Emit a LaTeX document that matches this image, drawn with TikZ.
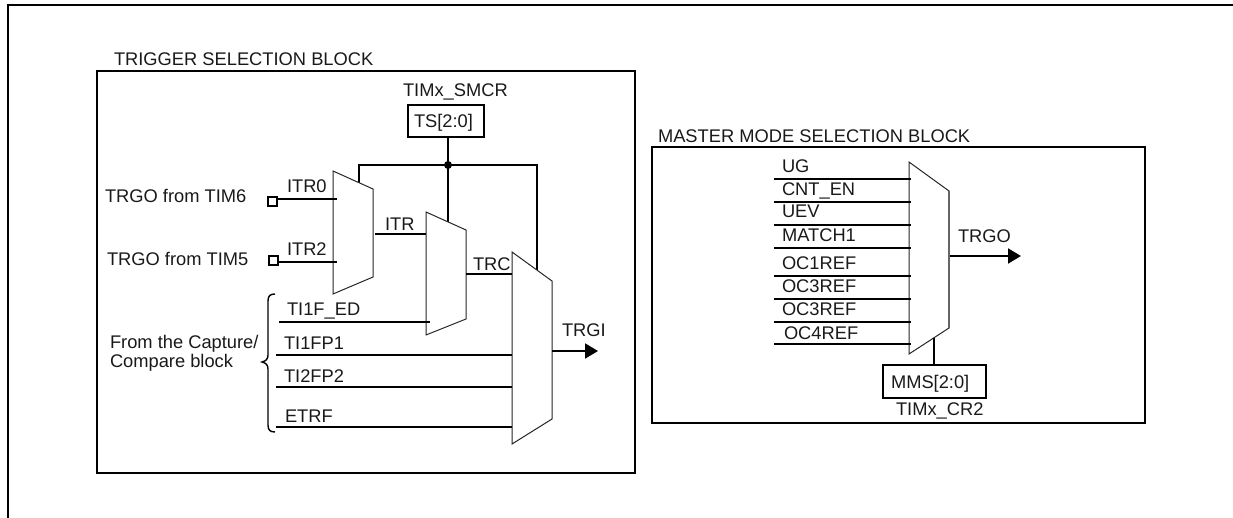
\documentclass[tikz,border=0pt]{standalone}
\usepackage{fontspec}
\setmainfont{Liberation Sans}
\usetikzlibrary{arrows.meta}
\tikzset{
  frame/.style={draw=black,line width=2pt,fill=none},
  wire/.style={draw=black,line width=2pt},
  muxbody/.style={draw=black!85,line width=1pt,fill=white,line join=miter},
  muxedge/.style={draw=black!60,line width=1.6pt},
  bracepath/.style={draw=black,line width=1.4pt},
  lab/.style={inner sep=0pt,outer sep=0pt,anchor=base west,text=black!90,font=\fontsize{18.3}{21}\selectfont},
  regbox/.style={draw=black,line width=2pt,inner sep=0pt,outer sep=0pt,anchor=north west},
  port/.style={draw=black,line width=2pt,fill=white,inner sep=0pt,minimum size=9pt},
  arrowout/.style={wire,-{Triangle[length=13pt,width=15pt]}},
  blockbox/.style={frame,inner sep=0pt,outer sep=0pt,anchor=north west}
}
\begin{document}
\begin{tikzpicture}[x=1pt,y=-1pt]
\useasboundingbox (0,0) rectangle (1233,518);
% outer frame
\coordinate (oBL) at (8,517.5); \coordinate (oTL) at (8,5); \coordinate (oTR) at (1233,5);
\draw[frame,line cap=butt] (oBL) -- (oTL) -- (oTR);
% blocks
\node[blockbox,minimum width=538pt,minimum height=402pt] (trigblock) at (97,71) {};
\node[blockbox,minimum width=493pt,minimum height=276pt] (masterblock) at (652,147) {};
\node[lab] (trigtitle) at (114,66) {TRIGGER SELECTION BLOCK};
\node[lab] (mastertitle) at (658,143) {MASTER MODE SELECTION BLOCK};
% ---- trigger block ----
\node[lab] (smcr) at (403,97) {TIMx\_SMCR};
\node[regbox,minimum width=76pt,minimum height=32pt] (ts) at (408,105.5) {};
\node[lab] (tstext) at (414,128) {TS[2:0]};
\coordinate (junc) at (448,165);
\coordinate (busL) at (359,165);
\coordinate (busR) at (537,165);
\coordinate (busRb) at (537,271);
\coordinate (mux1top) at (359,183);
\coordinate (mux2top) at (448,223);
\draw[wire] (junc |- ts.south) -- (junc);
\draw[wire] (mux1top) -- (busL) -- (busR) -- (busRb);
\draw[wire] (junc) -- (mux2top);
\node[circle,fill=black,inner sep=0pt,minimum size=8pt] (dot) at (junc) {};
% mux bodies
\draw[muxbody] (333,171) -- (373,189) -- (373,277) -- (333,294) -- cycle;
\draw[muxbody] (426,212) -- (466,230) -- (466,319) -- (426,335) -- cycle;
\draw[muxbody] (512,252) -- (552,281) -- (552,419) -- (512,444) -- cycle;
% inputs
\node[port] (p6) at (272.5,202) {};
\node[port] (p5) at (273,260.5) {};
\node[lab] (l6) at (105,203) {TRGO from TIM6};
\node[lab] (l5) at (107,266) {TRGO from TIM5};
\node[lab] (litr0) at (287,193) {ITR0};
\node[lab] (litr2) at (287,256) {ITR2};
\coordinate (m1a) at (337,199);
\coordinate (m1b) at (337,262);
\draw[wire] (p6.east |- m1a) -- (m1a);
\draw[wire] (p5.east |- m1b) -- (m1b);
\coordinate (m1o) at (375,234); \coordinate (m2a) at (426,234);
\draw[wire] (m1o) -- (m2a);
\node[lab] (litr) at (385,231) {ITR};
\coordinate (b1a) at (279,322); \coordinate (m2b) at (430,322);
\draw[wire] (b1a) -- (m2b);
\node[lab] (lted) at (287,316) {TI1F\_ED};
\coordinate (m2o) at (466,274); \coordinate (m3a) at (512,274);
\draw[wire] (m2o) -- (m3a);
\node[lab] (ltrc) at (473,271) {TRC};
\coordinate (c1) at (276,355); \coordinate (c2) at (276,387); \coordinate (c3) at (276,427);
\coordinate (d1) at (512,355); \coordinate (d2) at (512,387); \coordinate (d3) at (512,427);
\draw[wire] (c1) -- (d1); \draw[wire] (c2) -- (d2); \draw[wire] (c3) -- (d3);
\node[lab] (ltf1) at (284,349) {TI1FP1};
\node[lab] (ltf2) at (284,382) {TI2FP2};
\node[lab] (letrf) at (285,422) {ETRF};
\node[lab] (ltrgi) at (562,336) {TRGI};
\coordinate (trgi0) at (552,351); \coordinate (trgi1) at (598,351);
\draw[arrowout] (trgi0) -- (trgi1);
% brace
\draw[bracepath] (275,294) .. controls (270,294) and (268,296) .. (268,301)
  -- (268,355) .. controls (268,359) and (266,361) .. (262,362)
  .. controls (266,363) and (268,365) .. (268,369)
  -- (268,425) .. controls (268,430) and (270,432) .. (275,432);
\node[lab] (lcap1) at (110,348) {From the Capture/};
\node[lab] (lcap2) at (110,367) {Compare block};
% ---- master block ----
\draw[muxbody] (909,162) -- (949,191) -- (949,328) -- (909,354) -- cycle;
\draw[muxedge] (949,191) -- (949,328);
\foreach \nm/\yy in {a/179,b/202,c/225,d/248,e/276,f/299,g/322,h/344}{
  \coordinate (in\nm) at (774,\yy);
  \coordinate (inr\nm) at (911,\yy);
  \draw[wire] (in\nm) -- (inr\nm);
}
\node[lab] (lug) at (782,173) {UG};
\node[lab] (lcnt) at (782,196) {CNT\_EN};
\node[lab] (luev) at (782,218) {UEV};
\node[lab] (lmatch) at (782,242) {MATCH1};
\node[lab] (loc1) at (782,270) {OC1REF};
\node[lab] (loc2) at (782,293) {OC3REF};
\node[lab] (loc3) at (782,316) {OC3REF};
\node[lab] (loc4) at (784,339) {OC4REF};
\node[lab] (ltrgo) at (958,243) {TRGO};
\coordinate (trgo0) at (950,256); \coordinate (trgo1) at (1021,256);
\draw[arrowout] (trgo0) -- (trgo1);
\node[regbox,minimum width=103pt,minimum height=33pt] (mms) at (882.5,364.5) {};
\node[lab] (lmms) at (891,388) {MMS[2:0]};
\node[lab] (lcr2) at (896,415) {TIMx\_CR2};
\coordinate (msel) at (934,338);
\draw[wire] (mms.north -| msel) -- (msel);
\end{tikzpicture}
\end{document}
